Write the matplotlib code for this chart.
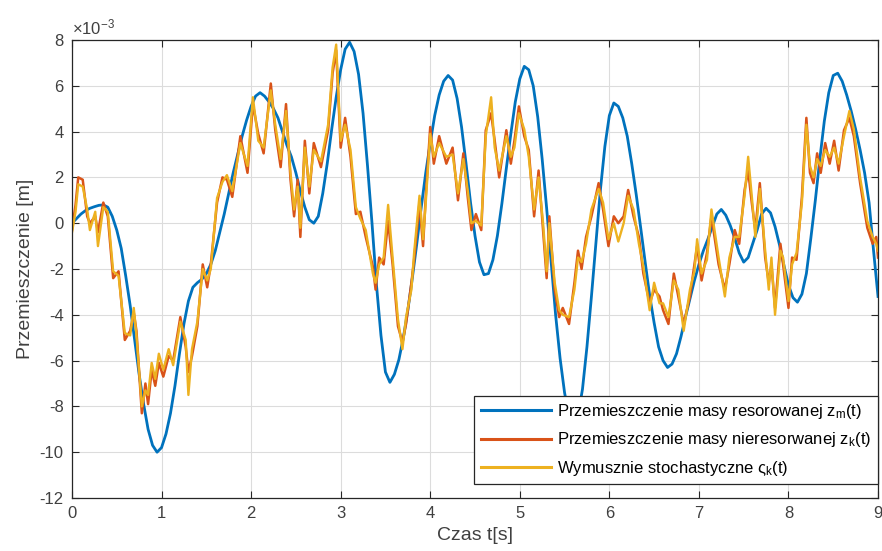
import matplotlib
matplotlib.use("Agg")
import matplotlib.pyplot as plt
import numpy as np
from matplotlib.ticker import MultipleLocator, FormatStrFormatter

# displacement values in units of 1e-3 m
blue_t = np.round(np.arange(181) * 0.05, 2)
blue_v = [
    0.0, 0.2, 0.4, 0.55, 0.65, 0.72, 0.78, 0.8, 0.7, 0.3,
    -0.3, -1.1, -2.3, -3.6, -5.1, -6.6, -7.9, -9.0, -9.7, -10.0,
    -9.8, -9.2, -8.3, -7.1, -5.7, -4.4, -3.4, -2.8, -2.6, -2.45,
    -2.2, -1.8, -1.2, -0.4, 0.4, 1.3, 2.2, 3.0, 3.8, 4.5,
    5.1, 5.55, 5.7, 5.55, 5.3, 5.0, 4.6, 4.0, 3.4, 2.9,
    2.2, 1.4, 0.7, 0.15, 0.0, 0.3, 1.3, 2.6, 4.1, 5.5,
    6.7, 7.6, 7.9, 7.5, 6.5, 4.8, 2.5, 0.0, -2.7, -4.9,
    -6.5, -6.95, -6.6, -5.96, -5.0, -3.8, -2.4, -0.9, 0.7, 2.2,
    3.5, 4.7, 5.6, 6.2, 6.45, 6.25, 5.45, 4.2, 2.6, 0.9,
    -0.55, -1.7, -2.25, -2.2, -1.6, -0.55, 0.85, 2.4, 3.9, 5.3,
    6.3, 6.85, 6.7, 6.0, 4.65, 2.8, 0.65, -1.7, -4.0, -5.9,
    -7.4, -8.45, -8.8, -8.4, -7.25, -5.4, -3.2, -0.85, 1.45, 3.35,
    4.7, 5.25, 5.1, 4.6, 3.8, 2.6, 1.25, -0.2, -1.7, -3.15,
    -4.35, -5.4, -6.0, -6.3, -6.15, -5.7, -4.95, -4.1, -3.3, -2.5,
    -1.8, -1.2, -0.7, -0.15, 0.4, 0.6, 0.35, -0.1, -0.65, -1.3,
    -1.7, -1.5, -0.9, -0.3, 0.4, 0.65, 0.45, -0.15, -0.95, -1.85,
    -2.7, -3.25, -3.45, -3.1, -2.2, -0.65, 1.0, 2.8, 4.45, 5.7,
    6.45, 6.55, 6.2, 5.6, 4.9, 4.1, 3.2, 2.2, 0.9, -1.2,
    -3.2,
]

noisy_t = [
    0.00, 0.04, 0.07, 0.12, 0.17, 0.20, 0.26, 0.29, 0.35, 0.40,
    0.46, 0.52, 0.59, 0.65, 0.69, 0.72, 0.78, 0.82, 0.85, 0.89,
    0.93, 0.97, 1.02, 1.08, 1.13, 1.21, 1.27, 1.30, 1.34, 1.40,
    1.46, 1.51, 1.55, 1.62, 1.68, 1.73, 1.79, 1.88, 1.96, 2.02,
    2.08, 2.14, 2.22, 2.27, 2.33, 2.39, 2.44, 2.48, 2.52, 2.55,
    2.60, 2.65, 2.70, 2.78, 2.86, 2.91, 2.95, 3.00, 3.05, 3.11,
    3.17, 3.22, 3.28, 3.36, 3.39, 3.43, 3.48, 3.53, 3.58, 3.64,
    3.69, 3.73, 3.79, 3.82, 3.88, 3.92, 3.95, 4.00, 4.04, 4.10,
    4.18, 4.25, 4.31, 4.37, 4.42, 4.46, 4.51, 4.57, 4.62, 4.68,
    4.72, 4.77, 4.85, 4.90, 4.94, 4.99, 5.05, 5.10, 5.16, 5.21,
    5.26, 5.30, 5.33, 5.39, 5.44, 5.48, 5.55, 5.61, 5.65, 5.69,
    5.74, 5.80, 5.88, 5.93, 5.99, 6.05, 6.10, 6.16, 6.21, 6.27,
    6.33, 6.38, 6.45, 6.50, 6.56, 6.60, 6.66, 6.72, 6.77, 6.83,
    6.90, 6.95, 6.98, 7.03, 7.09, 7.14, 7.22, 7.29, 7.34, 7.40,
    7.45, 7.51, 7.55, 7.59, 7.63, 7.68, 7.74, 7.78, 7.81, 7.85,
    7.91, 7.94, 8.00, 8.04, 8.09, 8.15, 8.20, 8.24, 8.28, 8.32,
    8.36, 8.41, 8.46, 8.51, 8.56, 8.62, 8.68, 8.73, 8.80, 8.88,
    8.94, 8.98, 9.00,
]

red_v = [
    -0.3, 0.8, 2.0, 1.9, 0.3, 0.0, 0.3, -0.4, 0.9, 0.3,
    -2.4, -2.1, -5.1, -4.7, -3.9, -4.7, -8.3, -7.0, -7.9, -6.4,
    -7.1, -6.1, -6.7, -5.8, -6.0, -4.1, -5.4, -6.5, -5.8, -4.5,
    -1.8, -2.8, -1.8, 0.9, 2.0, 1.9, 1.15, 3.8, 2.2, 5.2,
    3.9, 3.05, 6.1, 4.06, 2.45, 5.2, 1.9, 0.3, 1.9, -0.6,
    3.6, 1.3, 3.5, 2.45, 4.06, 6.55, 7.55, 3.3, 4.6, 2.9,
    0.4, 0.5, -0.6, -1.9, -2.9, -1.5, -1.8, 0.1, -1.8, -4.5,
    -5.2, -4.4, -2.6, -1.6, 0.9, -1.0, 1.15, 4.2, 2.6, 3.8,
    2.6, 3.3, 1.0, 3.05, 1.1, -0.3, 0.4, -0.3, 4.06, 4.8,
    3.6, 2.0, 4.06, 2.6, 3.6, 5.1, 3.8, 3.2, 0.3, 2.3,
    -0.3, -2.4, 0.3, -2.9, -4.1, -3.7, -4.4, -2.6, -1.2, -2.0,
    -0.6, 0.3, 1.75, 0.6, -1.0, 0.3, 0.0, 0.3, 1.45, 0.3,
    -0.6, -2.2, -3.5, -2.9, -3.2, -3.8, -4.4, -2.2, -3.2, -4.4,
    -3.2, -1.8, -1.0, -2.5, -1.3, 0.3, -1.8, -2.9, -1.8, -0.3,
    -0.9, 1.45, 2.3, 0.9, -0.3, 1.75, -1.5, -2.6, -1.8, -3.7,
    -0.9, -1.8, -3.7, -1.5, -1.6, 1.15, 4.6, 2.2, 1.75, 3.05,
    2.2, 3.5, 2.6, 3.6, 2.3, 4.06, 4.6, 3.8, 1.75, -0.2,
    -0.9, -0.6, -1.5,
]

yellow_v = [
    -0.4, 0.5, 1.7, 1.6, 0.6, -0.3, 0.5, -1.0, 0.7, 0.5,
    -2.1, -2.3, -4.8, -4.9, -3.7, -4.9, -8.0, -7.3, -7.5, -6.1,
    -6.8, -5.7, -6.4, -5.5, -6.2, -4.3, -5.1, -7.5, -5.5, -4.3,
    -2.0, -2.5, -2.0, 1.1, 1.8, 2.1, 1.4, 3.5, 2.5, 5.5,
    3.6, 3.3, 5.8, 4.3, 2.8, 4.9, 2.2, 0.6, 1.6, -0.2,
    3.3, 1.6, 3.2, 2.7, 4.3, 6.8, 7.8, 3.6, 4.3, 3.2,
    0.7, 0.2, -0.3, -2.2, -2.6, -1.8, -1.5, 0.8, -1.5, -4.2,
    -5.5, -4.1, -2.9, -1.3, 1.2, -0.7, 0.9, 3.9, 2.9, 3.5,
    2.9, 3.0, 1.3, 2.8, 1.4, 0.0, 0.1, -0.1, 3.8, 5.5,
    3.3, 2.3, 3.8, 2.9, 3.3, 4.8, 4.1, 2.9, 0.6, 2.0,
    0.0, -2.1, 0.0, -2.6, -3.8, -4.0, -4.1, -2.9, -1.5, -1.7,
    -0.9, 0.6, 1.5, 0.9, -0.7, 0.0, -0.8, 0.0, 1.2, 0.6,
    -0.9, -1.9, -3.8, -2.6, -3.5, -3.5, -4.1, -2.5, -2.9, -4.7,
    -2.9, -2.1, -0.7, -2.2, -1.6, 0.6, -1.5, -3.2, -1.5, -0.6,
    -0.6, 1.2, 2.9, 1.2, -0.6, 1.5, -1.2, -2.9, -1.5, -4.0,
    -1.2, -1.5, -3.4, -1.8, -1.3, 0.9, 4.3, 2.5, 2.0, 2.8,
    2.5, 3.2, 2.9, 3.3, 2.6, 3.8, 4.9, 4.1, 2.0, 0.1,
    -0.6, -0.9, -1.2,
]

labels = [
    r"Przemieszczenie masy resorowanej z$_m$(t)",
    r"Przemieszczenie masy nieresorwanej z$_k$(t)",
    r"Wymusznie stochastyczne $\varsigma_k$(t)",
]
colors = ["#0072BD", "#D95319", "#EDB120"]
text_col = "#404040"

plt.rcParams["font.family"] = ["Liberation Sans", "DejaVu Sans"]
plt.rcParams["mathtext.fontset"] = "custom"
plt.rcParams["mathtext.rm"] = "Liberation Sans"
plt.rcParams["mathtext.it"] = "Liberation Sans"
plt.rcParams["axes.unicode_minus"] = False

fig = plt.figure(figsize=(8.82, 5.51), dpi=100)
ax = fig.add_axes([0.0816, 0.0962, 0.9139, 0.8312])

ax.plot(blue_t, blue_v, color=colors[0], lw=2.0, label=labels[0])
ax.plot(noisy_t, red_v, color=colors[1], lw=1.8, label=labels[1])
ax.plot(noisy_t, yellow_v, color=colors[2], lw=1.7, label=labels[2])

ax.set_xlim(0, 9)
ax.set_ylim(-12, 8)
ax.xaxis.set_major_locator(MultipleLocator(1))
ax.yaxis.set_major_locator(MultipleLocator(2))
ax.yaxis.set_major_formatter(FormatStrFormatter("%d"))

# exponent marker as in the MATLAB figure
ax.text(0.0, 1.005, r"$\times$10$^{-3}$", transform=ax.transAxes,
        fontsize=12, color=text_col, ha="left", va="bottom")

ax.grid(True, color="#dcdcdc", lw=0.8)
ax.set_axisbelow(True)
for sp in ax.spines.values():
    sp.set_color("#262626")
    sp.set_linewidth(0.9)
ax.tick_params(direction="in", top=True, right=True, length=5,
               labelsize=12, labelcolor=text_col, color="#262626",
               width=0.8, pad=6)

ax.set_xlabel("Czas t[s]", fontsize=14, color=text_col, labelpad=4)
ax.set_ylabel("Przemieszczenie [m]", fontsize=14, color=text_col, labelpad=4)

leg = ax.legend(loc="lower right", bbox_to_anchor=(1.0, 0.03), borderaxespad=0,
                fontsize=12, handlelength=4.2, handletextpad=0.4,
                labelspacing=0.55, fancybox=False, framealpha=1,
                edgecolor="#262626")
leg.get_frame().set_linewidth(0.9)
for line in leg.get_lines():
    line.set_linewidth(2.2)

fig.savefig("out.png", dpi=100)
